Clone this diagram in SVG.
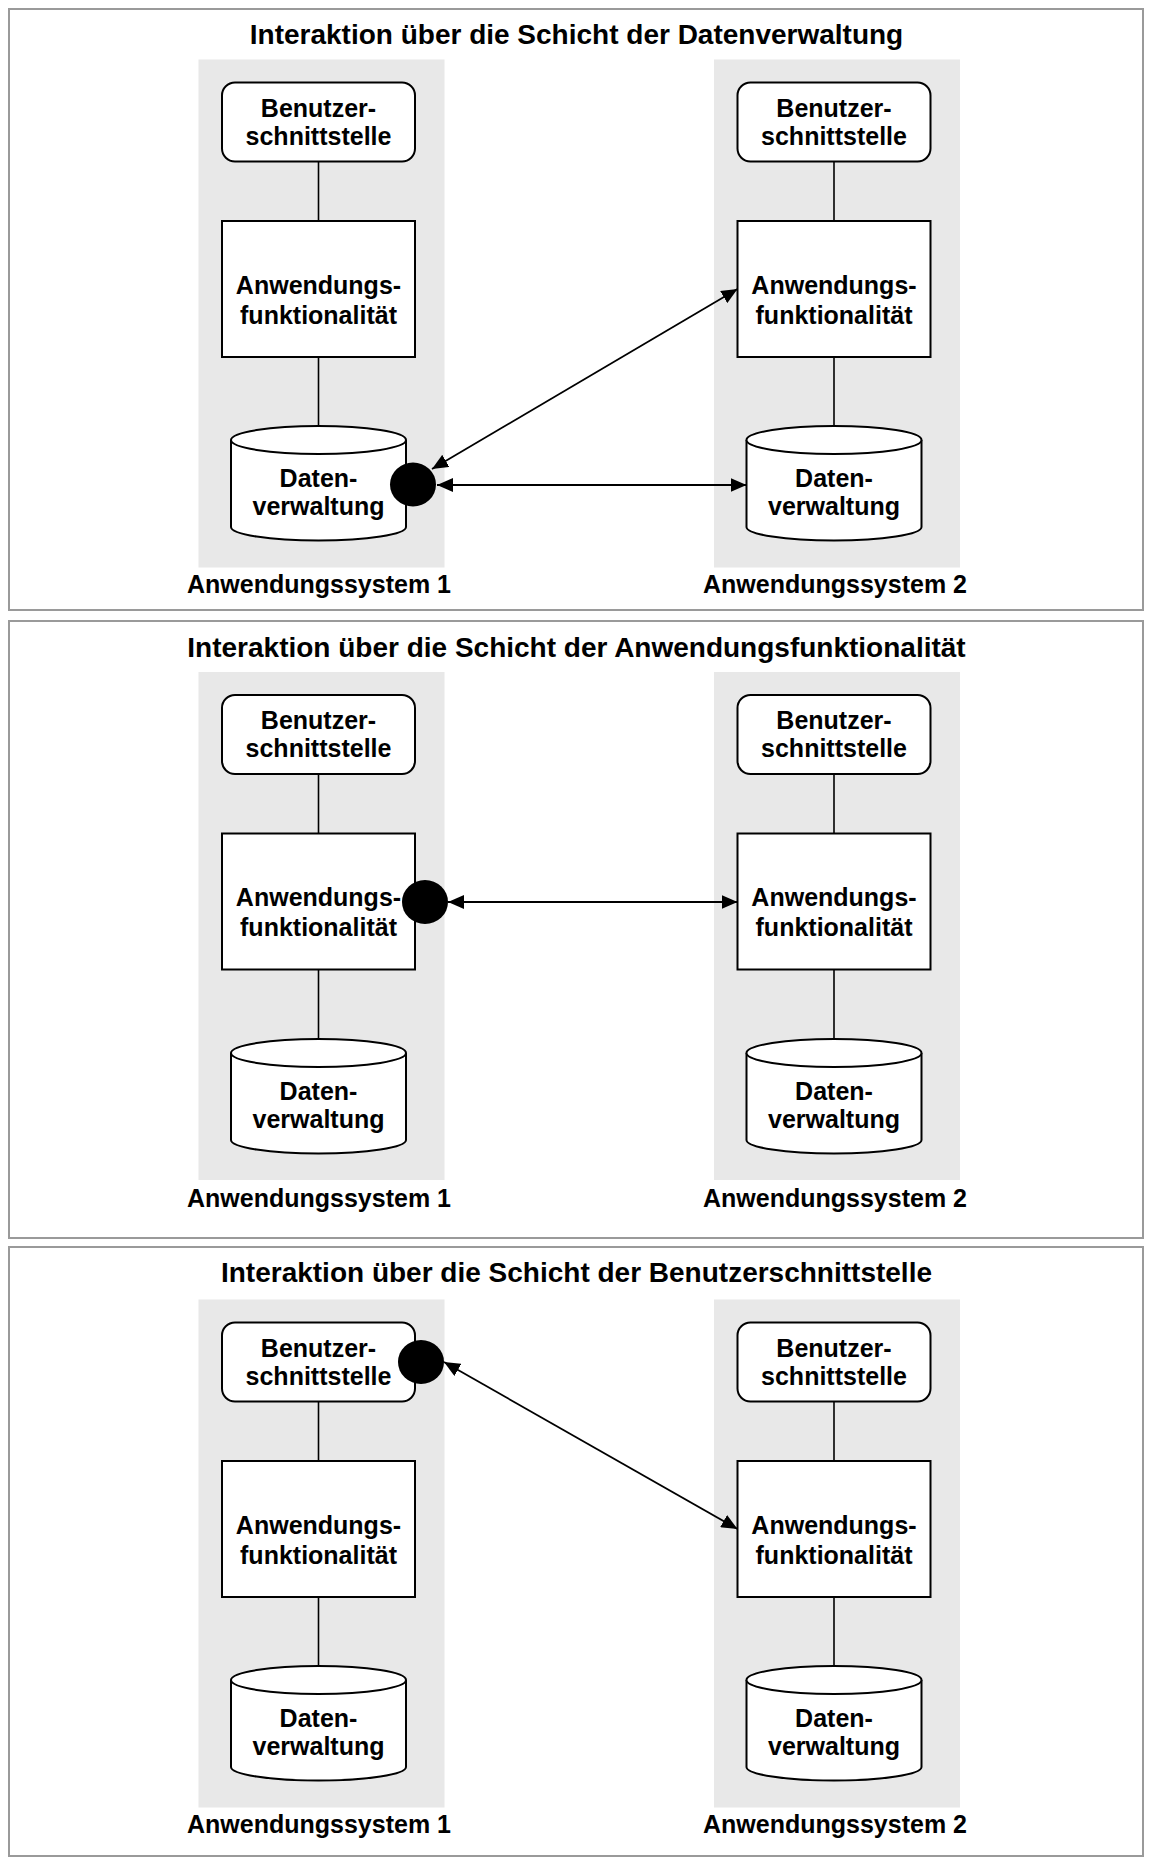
<svg xmlns="http://www.w3.org/2000/svg" width="1152" height="1858" viewBox="0 0 1152 1858">
<defs>
<style>
.bg{fill:#fff}
.panel{fill:#fff;stroke:#9a9a9a;stroke-width:2}
.col{fill:#e8e8e8}
.node{fill:#fff;stroke:#000;stroke-width:2}
.t{font-family:"Liberation Sans",Arial,Helvetica,sans-serif;font-weight:bold;font-size:25px;text-anchor:middle;fill:#000}
.title{font-size:28px}
.lab{font-size:25px}
.link{stroke:#000;stroke-width:1.6;fill:none}
.conn{stroke:#000;stroke-width:1.8;fill:none;marker-start:url(#ah);marker-end:url(#ah)}
.dot{fill:#000}
</style>
<marker id="ah" markerUnits="userSpaceOnUse" markerWidth="16" markerHeight="14" refX="16" refY="7" orient="auto-start-reverse">
<path d="M0,0 L16,7 L0,14 z" fill="#000"/>
</marker>
<g id="ui"><rect class="node" x="0" y="0" width="193" height="79" rx="13"/><text class="t" x="96.5" y="34">Benutzer-</text><text class="t" x="96.5" y="62">schnittstelle</text></g>
<g id="fn"><rect class="node" x="0" y="0" width="193" height="136"/><text class="t" x="96.5" y="72.5">Anwendungs-</text><text class="t" x="96.5" y="102.5">funktionalität</text></g>
<g id="db"><path class="node" d="M0,14 A87.5,14 0 0,1 175,14 L175,101 A87.5,13.5 0 0,1 0,101 Z"/><path class="node" d="M0,14 A87.5,14 0 0,0 175,14"/><text class="t" x="87.5" y="60.5">Daten-</text><text class="t" x="87.5" y="88.5">verwaltung</text></g>
</defs>
<rect class="bg" x="0" y="0" width="1152" height="1858"/>

<g id="panel1">
<rect class="panel" x="9" y="9" width="1134" height="601"/>
<text class="t title" x="576.5" y="44">Interaktion über die Schicht der Datenverwaltung</text>
<rect class="col" x="198.5" y="59.5" width="246" height="508"/>
<rect class="col" x="714" y="59.5" width="246" height="508"/>
<text class="t lab" x="319" y="593.3">Anwendungssystem 1</text>
<text class="t lab" x="835" y="593.3">Anwendungssystem 2</text>
<g id="p1-links">
<line class="link" x1="318.5" y1="161.5" x2="318.5" y2="221"/>
<line class="link" x1="318.5" y1="357" x2="318.5" y2="426"/>
<line class="link" x1="834" y1="161.5" x2="834" y2="221"/>
<line class="link" x1="834" y1="357" x2="834" y2="426"/>
</g>
<g id="p1-s1-ui" transform="translate(222,82.5)"><use href="#ui"/></g>
<g id="p1-s1-fn" transform="translate(222,221)"><use href="#fn"/></g>
<g id="p1-s1-db" transform="translate(231,426)"><use href="#db"/></g>
<g id="p1-s2-ui" transform="translate(737.5,82.5)"><use href="#ui"/></g>
<g id="p1-s2-fn" transform="translate(737.5,221)"><use href="#fn"/></g>
<g id="p1-s2-db" transform="translate(746.5,426)"><use href="#db"/></g>
</g>

<g id="panel2">
<rect class="panel" x="9" y="621" width="1134" height="617"/>
<text class="t title" x="576.5" y="656.5">Interaktion über die Schicht der Anwendungsfunktionalität</text>
<rect class="col" x="198.5" y="672" width="246" height="508"/>
<rect class="col" x="714" y="672" width="246" height="508"/>
<text class="t lab" x="319" y="1206.5">Anwendungssystem 1</text>
<text class="t lab" x="835" y="1206.5">Anwendungssystem 2</text>
<g id="p2-links">
<line class="link" x1="318.5" y1="774" x2="318.5" y2="833.5"/>
<line class="link" x1="318.5" y1="969.5" x2="318.5" y2="1039"/>
<line class="link" x1="834" y1="774" x2="834" y2="833.5"/>
<line class="link" x1="834" y1="969.5" x2="834" y2="1039"/>
</g>
<g id="p2-s1-ui" transform="translate(222,695)"><use href="#ui"/></g>
<g id="p2-s1-fn" transform="translate(222,833.5)"><use href="#fn"/></g>
<g id="p2-s1-db" transform="translate(231,1039)"><use href="#db"/></g>
<g id="p2-s2-ui" transform="translate(737.5,695)"><use href="#ui"/></g>
<g id="p2-s2-fn" transform="translate(737.5,833.5)"><use href="#fn"/></g>
<g id="p2-s2-db" transform="translate(746.5,1039)"><use href="#db"/></g>
</g>

<g id="panel3">
<rect class="panel" x="9" y="1247" width="1134" height="609"/>
<text class="t title" x="576.5" y="1282">Interaktion über die Schicht der Benutzerschnittstelle</text>
<rect class="col" x="198.5" y="1299.5" width="246" height="508"/>
<rect class="col" x="714" y="1299.5" width="246" height="508"/>
<text class="t lab" x="319" y="1833.3">Anwendungssystem 1</text>
<text class="t lab" x="835" y="1833.3">Anwendungssystem 2</text>
<g id="p3-links">
<line class="link" x1="318.5" y1="1401.5" x2="318.5" y2="1461"/>
<line class="link" x1="318.5" y1="1597" x2="318.5" y2="1666"/>
<line class="link" x1="834" y1="1401.5" x2="834" y2="1461"/>
<line class="link" x1="834" y1="1597" x2="834" y2="1666"/>
</g>
<g id="p3-s1-ui" transform="translate(222,1322.5)"><use href="#ui"/></g>
<g id="p3-s1-fn" transform="translate(222,1461)"><use href="#fn"/></g>
<g id="p3-s1-db" transform="translate(231,1666)"><use href="#db"/></g>
<g id="p3-s2-ui" transform="translate(737.5,1322.5)"><use href="#ui"/></g>
<g id="p3-s2-fn" transform="translate(737.5,1461)"><use href="#fn"/></g>
<g id="p3-s2-db" transform="translate(746.5,1666)"><use href="#db"/></g>
</g>

<g id="connectors">
<ellipse class="dot" cx="413" cy="484.5" rx="23" ry="22"/>
<line class="conn" x1="432" y1="469" x2="737.5" y2="289"/>
<line class="conn" x1="437" y1="485" x2="746.5" y2="485"/>
<ellipse class="dot" cx="425" cy="902" rx="23" ry="22"/>
<line class="conn" x1="448" y1="902" x2="737.5" y2="902"/>
<ellipse class="dot" cx="421" cy="1362" rx="23" ry="22"/>
<line class="conn" x1="444" y1="1362" x2="737.5" y2="1529"/>
</g>
</svg>
